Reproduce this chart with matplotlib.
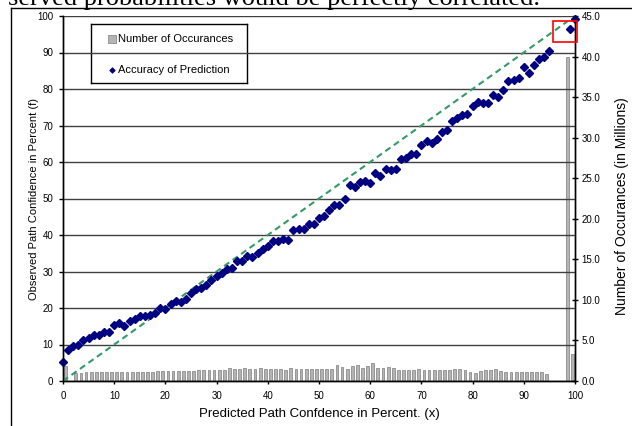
import matplotlib
matplotlib.use("Agg")
import matplotlib.pyplot as plt
from matplotlib.patches import Rectangle
from matplotlib.lines import Line2D

plt.rcParams["font.family"] = ["Liberation Sans", "DejaVu Sans"]

# ---- data -------------------------------------------------------------
# accuracy of prediction: predicted % (x) vs observed % (f)
pred_pct = list(range(0, 96)) + [99, 100]
observed_pct = [
    5.2, 8.4, 9.5, 10.0, 11.2, 11.7, 12.5, 12.7, 13.5, 13.5,
    15.4, 15.8, 15.0, 16.4, 17.0, 17.9, 17.8, 18.2, 18.5, 20.1,
    19.7, 21.0, 22.0, 21.7, 22.5, 24.1, 25.2, 25.4, 26.4, 27.8,
    28.8, 29.6, 30.8, 31.0, 33.0, 32.8, 34.3, 34.0, 35.2, 36.3,
    36.9, 38.4, 38.4, 38.9, 38.6, 41.3, 41.7, 41.7, 43.1, 43.1,
    44.7, 45.3, 46.8, 48.1, 48.3, 49.9, 53.7, 53.2, 54.6, 54.7,
    54.2, 57.0, 56.3, 58.0, 57.8, 58.1, 60.7, 61.2, 62.3, 62.2,
    64.6, 65.7, 65.2, 66.4, 68.1, 68.8, 71.2, 72.0, 73.0, 73.2,
    75.4, 76.4, 76.3, 76.2, 78.3, 77.9, 79.7, 82.2, 82.5, 83.0,
    86.0, 84.5, 86.7, 88.2, 88.9, 90.3, 96.5, 99.1,
]

# perfect correlation reference line
ideal_pct = [0, 98.5]

# number of occurances (millions) per 1% bucket
buckets = list(range(1, 101))
occurances_m = [
    1.8, 0.0, 1.0, 1.02, 1.05, 1.05, 1.05, 1.07, 1.07, 1.08,
    1.1, 1.1, 1.1, 1.1, 1.12, 1.12, 1.15, 1.15, 1.2, 1.2,
    1.22, 1.22, 1.25, 1.25, 1.25, 1.28, 1.3, 1.3, 1.4, 1.35,
    1.35, 1.4, 1.55, 1.45, 1.45, 1.55, 1.45, 1.45, 1.55, 1.5,
    1.45, 1.5, 1.45, 1.4, 1.6, 1.45, 1.45, 1.45, 1.45, 1.45,
    1.45, 1.45, 1.5, 2.0, 1.75, 1.5, 1.85, 2.0, 1.55, 1.8,
    2.2, 1.55, 1.6, 1.75, 1.6, 1.3, 1.3, 1.3, 1.3, 1.45,
    1.3, 1.3, 1.3, 1.3, 1.3, 1.3, 1.45, 1.5, 1.3, 1.15,
    1.0, 1.25, 1.35, 1.35, 1.45, 1.2, 1.15, 1.15, 1.15, 1.15,
    1.15, 1.15, 1.15, 1.15, 0.85, 0.0, 0.0, 0.0, 39.9, 3.3,
]

W, H = 632, 426
fig = plt.figure(figsize=(W / 100, H / 100), dpi=100)

ax = fig.add_axes([63 / W, 1 - 381 / H, 512 / W, 365 / H])
ax2 = ax.twinx()
ax.set_zorder(ax2.get_zorder() + 1)
ax.patch.set_visible(False)

# bars on the secondary axis, centred in each bucket
ax2.bar([b - 0.5 for b in buckets], occurances_m, width=0.55,
        color="#b4b4b4", edgecolor="#8c8c8c", linewidth=0.6)
ax2.set_ylim(0, 45)
ax2.set_yticks(range(0, 46, 5))
ax2.set_yticklabels([f"{v:.1f}" for v in range(0, 46, 5)])

ax.plot(ideal_pct, ideal_pct, color="#339966", lw=1.5, linestyle=(0, (3, 2)))
ax.plot(pred_pct, observed_pct, linestyle="none", marker="D", ms=3.6, mew=1.0,
        color="#000080", clip_on=False)

ax.set_xlim(0, 100)
ax.set_ylim(0, 100)
ax.set_xticks(range(0, 101, 10))
ax.set_yticks(range(0, 101, 10))
ax.grid(axis="y", color="#404040", lw=1)
ax.set_axisbelow(True)

for a in (ax, ax2):
    a.spines["top"].set_visible(False)
    for s in ("left", "right", "bottom"):
        a.spines[s].set_color("black")
        a.spines[s].set_linewidth(1.0)
ax.tick_params(axis="y", direction="out", length=3, width=1, pad=4, labelsize=7)
ax.tick_params(axis="x", direction="out", length=2.5, width=1, pad=5, labelsize=7)
ax2.tick_params(axis="y", direction="inout", length=4.5, width=1, pad=2.5, labelsize=7)

ax.set_xlabel("Predicted Path Confdence in Percent. (x)", fontsize=9.5, va="center")
ax.xaxis.set_label_coords(0.5, -0.09)
ax.set_ylabel("Observed Path Confidence in Percent (f)", fontsize=8, va="center")
ax.yaxis.set_label_coords((34 - 63) / 512, 0.5)
ax2.set_ylabel("Number of Occurances (in Millions)", fontsize=10, va="center")
ax2.yaxis.set_label_coords((622 - 63) / 512, 0.48)

# highlight box around the 99% point
ax.add_patch(Rectangle((95.7, 92.9), 4.7, 5.7, fill=False, edgecolor="red",
                       lw=1.2, clip_on=False, zorder=5))

# legend box
leg = fig.add_axes([91 / W, 1 - 83 / H, 156 / W, 59 / H])
leg.set_xticks([])
leg.set_yticks([])
for s in leg.spines.values():
    s.set_linewidth(1.0)
leg.set_xlim(0, 156)
leg.set_ylim(59, 0)
leg.plot([21], [15], marker="s", ms=5.5, color="#b4b4b4", mec="#8c8c8c", mew=0.6)
leg.text(27, 15, "Number of Occurances", fontsize=8, va="center")
leg.plot([21], [46], marker="D", ms=2.8, mew=0.6, color="#000080")
leg.text(27, 46, "Accuracy of Prediction", fontsize=8, va="center")

# page border and clipped document text above the chart
fig.add_artist(Line2D([11 / W, 11 / W], [0, 1 - 7.5 / H], color="black", lw=1))
fig.add_artist(Line2D([11 / W, 1], [1 - 7.5 / H, 1 - 7.5 / H], color="black", lw=1))
fig.text(8 / W, 1 - 4.5 / H, "served probabilities would be perfectly correlated.",
         family=["Liberation Serif", "DejaVu Serif"], fontsize=19, va="baseline")

fig.savefig("out.png", dpi=100)
